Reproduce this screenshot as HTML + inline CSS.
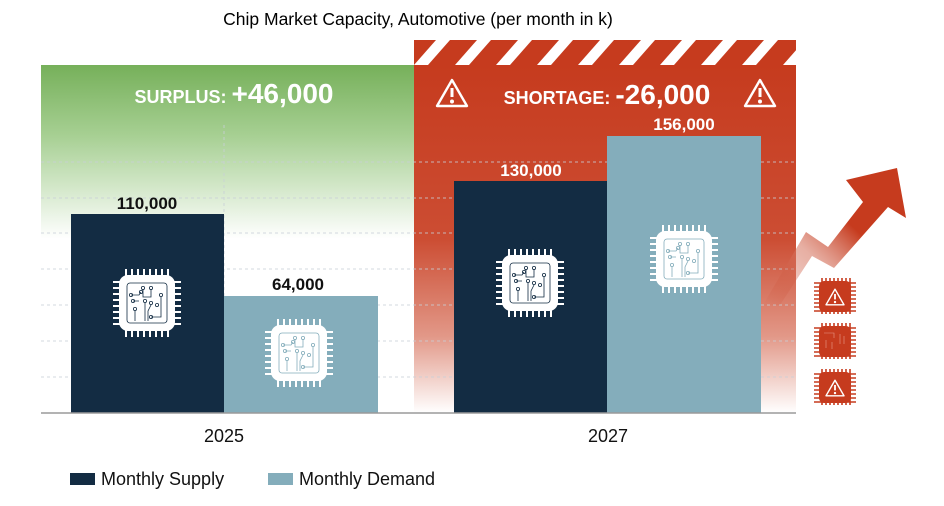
<!DOCTYPE html>
<html><head><meta charset="utf-8"><style>
body{margin:0;background:#fff;}
svg{display:block;font-family:"Liberation Sans",Arial,sans-serif;}
</style></head><body>
<svg width="944" height="506" viewBox="0 0 944 506" xmlns="http://www.w3.org/2000/svg">
<defs>
<linearGradient id="gg" x1="0" y1="0" x2="0" y2="1">
<stop offset="0" stop-color="#76b05a"/><stop offset="0.2" stop-color="#a6cf92"/><stop offset="0.5" stop-color="#ffffff"/><stop offset="1" stop-color="#ffffff"/></linearGradient>
<linearGradient id="rg" x1="0" y1="0" x2="0" y2="1">
<stop offset="0" stop-color="#c63b1e"/><stop offset="0.5" stop-color="#cc4d33"/><stop offset="0.78" stop-color="#e29888"/><stop offset="1" stop-color="#ffffff"/></linearGradient>
<linearGradient id="ag" x1="0" y1="1" x2="1" y2="0">
<stop offset="0" stop-color="#c63b1e" stop-opacity="0"/><stop offset="0.35" stop-color="#d77a66" stop-opacity="0.6"/><stop offset="0.6" stop-color="#c63b1e"/><stop offset="1" stop-color="#c63b1e"/></linearGradient>
<pattern id="st" patternUnits="userSpaceOnUse" width="41" height="25" x="414" y="40">
<rect width="41" height="25" fill="#c63b1e"/>
<polygon points="0,25 22,0 36,0 14,25" fill="#fff"/>
<polygon points="41,25 63,0 77,0 55,25" fill="#fff"/>
</pattern>
<g id="chip">
<g stroke="#fff" stroke-width="2">
<path d="M-21,-34v10M-15,-34v10M-9,-34v10M-3,-34v10M3,-34v10M9,-34v10M15,-34v10M21,-34v10"/>
<path d="M-21,24v10M-15,24v10M-9,24v10M-3,24v10M3,24v10M9,24v10M15,24v10M21,24v10"/>
<path d="M-34,-21h10M-34,-15h10M-34,-9h10M-34,-3h10M-34,3h10M-34,9h10M-34,15h10M-34,21h10"/>
<path d="M24,-21h10M24,-15h10M24,-9h10M24,-3h10M24,3h10M24,9h10M24,15h10M24,21h10"/>
</g>
<rect x="-28" y="-28" width="56" height="56" rx="9" fill="#fff"/>
<rect x="-20" y="-20" width="40" height="40" rx="3" fill="none" stroke="currentColor" stroke-width="0.8"/>
<g fill="none" stroke="currentColor" stroke-width="0.8">
<path d="M-16,-8h8l2,-3M-4,-14v8h8v-8M-12,8v10M-2,0v18M4,2l-3,6v10M14,-6v20h-10M-14,-2h6"/>
<circle cx="-16" cy="-8" r="1.6"/><circle cx="-6" cy="-11" r="1.6"/><circle cx="-4" cy="-15" r="1.6"/><circle cx="4" cy="-15" r="1.6"/><circle cx="-12" cy="6" r="1.6"/><circle cx="-2" cy="-2" r="1.6"/><circle cx="4" cy="0" r="1.6"/><circle cx="10" cy="2" r="1.6"/><circle cx="14" cy="-8" r="1.6"/><circle cx="-14" cy="-2" r="1.6"/><circle cx="4" cy="14" r="1.6"/>
</g>
</g>
<g id="rchip">
<g stroke="#c63b1e" stroke-width="1.6">
<path d="M-13,-18v36M-9,-18v36M-5,-18v36M-1,-18v36M3,-18v36M7,-18v36M11,-18v36M15,-18v36"/>
<path d="M-21,-13h42M-21,-9h42M-21,-5h42M-21,-1h42M-21,3h42M-21,7h42M-21,11h42M-21,15h42"/>
</g>
<rect x="-16" y="-15" width="32" height="31" rx="5" fill="#c63b1e"/>
</g>
<g id="warn" fill="none" stroke="#fff" stroke-width="2.4" stroke-linejoin="round">
<path d="M0,-13L15,13H-15Z"/><path d="M0,-5v9" stroke-width="3"/><circle cx="0" cy="8.5" r="0.8" fill="#fff"/>
</g>
</defs>

<text x="418" y="25" font-size="17.5" text-anchor="middle" fill="#000">Chip Market Capacity, Automotive (per month in k)</text>

<rect x="41" y="65" width="373" height="348" fill="url(#gg)"/>
<rect x="414" y="65" width="382" height="348" fill="url(#rg)"/>
<rect x="414" y="40" width="382" height="25" fill="url(#st)"/>

<g stroke="#c9d0d8" stroke-width="1" stroke-dasharray="3,3" opacity="0.8">
<path d="M41,198H796M41,233H796M41,269H796M41,305H796M41,341H796M41,377H796M41,162H796"/>
<path d="M224,125V413"/>
</g>

<rect x="71" y="214" width="153" height="199" fill="#132c43"/>
<rect x="224" y="296" width="154" height="117" fill="#84adbb"/>
<rect x="454" y="181" width="153" height="232" fill="#132c43"/>
<rect x="607" y="136" width="154" height="277" fill="#84adbb"/>
<path d="M41,413H796" stroke="#9a9a9a" stroke-width="1.5"/>

<use href="#chip" x="147" y="303" style="color:#132c43"/>
<use href="#chip" x="299" y="353" style="color:#84adbb"/>
<use href="#chip" x="530" y="283" style="color:#132c43"/>
<use href="#chip" x="684" y="259" style="color:#84adbb"/>

<g font-weight="bold" font-size="17" text-anchor="middle">
<text x="147" y="209" fill="#111">110,000</text>
<text x="298" y="290" fill="#111">64,000</text>
<text x="531" y="176" fill="#fff">130,000</text>
<text x="684" y="130" fill="#fff">156,000</text>
</g>

<text x="234" y="103" text-anchor="middle" fill="#fff" font-weight="bold"><tspan font-size="18">SURPLUS: </tspan><tspan font-size="28">+46,000</tspan></text>
<text x="607" y="104" text-anchor="middle" fill="#fff" font-weight="bold"><tspan font-size="18">SHORTAGE: </tspan><tspan font-size="28">-26,000</tspan></text>
<use href="#warn" x="452" y="93"/>
<use href="#warn" x="760" y="93"/>

<polygon points="763,305 806,232 828,247 863,202 846,180 897,168 906,218 888,207 834,268 812,256 780,305" fill="url(#ag)"/>

<use href="#rchip" x="835" y="296"/>
<use href="#warn" transform="translate(835,297) scale(0.6)"/>
<use href="#rchip" x="835" y="341"/>
<g fill="none" stroke="#e89a8a" stroke-width="0.6"><path d="M824,333h10v5M826,340v8M832,342v7M840,334v10M844,336v8"/></g>
<use href="#rchip" x="835" y="387"/>
<use href="#warn" transform="translate(835,388) scale(0.6)"/>

<text x="224" y="442" font-size="18" text-anchor="middle" fill="#111">2025</text>
<text x="608" y="442" font-size="18" text-anchor="middle" fill="#111">2027</text>

<rect x="70" y="473" width="25" height="12" fill="#132c43"/>
<text x="101" y="485" font-size="18" fill="#111">Monthly Supply</text>
<rect x="268" y="473" width="25" height="12" fill="#84adbb"/>
<text x="299" y="485" font-size="18" fill="#111">Monthly Demand</text>
</svg>
</body></html>
